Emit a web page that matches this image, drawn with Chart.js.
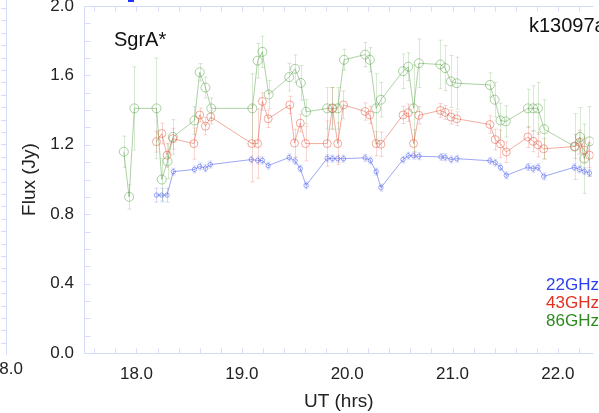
<!DOCTYPE html>
<html><head><meta charset="utf-8">
<script src="https://cdn.jsdelivr.net/npm/chart.js@4/dist/chart.umd.min.js"></script>
<style>html,body{margin:0;padding:0;background:#fff;overflow:hidden}#wrap{position:relative;width:599px;height:413px}</style>
</head><body><div id="wrap"><canvas id="c" width="599" height="413"></canvas></div>
<script>
// ---- data (UT hours, flux Jy, 1-sigma error) ----
const t22 = [18.19,18.24,18.29,18.35,18.55,18.60,18.655,18.70,19.09,19.15,19.195,19.25,19.45,19.505,19.555,19.61,19.81,19.86,19.91,19.965,20.17,20.22,20.275,20.32,20.53,20.58,20.63,20.68,20.89,20.93,20.985,21.04,21.355,21.405,21.455,21.51,21.715,21.765,21.81,21.865,22.155,22.205,22.25,22.30];
const f22 = [0.91,0.91,0.91,1.045,1.058,1.075,1.065,1.086,1.115,1.11,1.11,1.08,1.127,1.107,1.063,0.966,1.122,1.12,1.12,1.12,1.125,1.11,1.045,0.953,1.115,1.137,1.137,1.134,1.13,1.128,1.115,1.12,1.108,1.097,1.07,1.024,1.072,1.062,1.07,1.018,1.07,1.058,1.048,1.037];
const e22 = [0.04,0.04,0.04,0.02,0.02,0.02,0.02,0.02,0.02,0.02,0.02,0.02,0.02,0.02,0.02,0.02,0.02,0.02,0.02,0.02,0.02,0.02,0.02,0.02,0.02,0.02,0.02,0.02,0.02,0.02,0.02,0.02,0.02,0.02,0.02,0.02,0.02,0.02,0.02,0.02,0.02,0.02,0.02,0.02];

const t43 = [18.19,18.24,18.29,18.345,18.545,18.60,18.655,18.705,19.095,19.15,19.195,19.25,19.455,19.50,19.555,19.605,19.81,19.86,19.91,19.965,20.17,20.215,20.275,20.32,20.53,20.58,20.63,20.68,20.885,20.93,20.985,21.04,21.355,21.405,21.455,21.51,21.715,21.765,21.81,21.865,22.16,22.205,22.25,22.30];
const f43 = [1.218,1.265,1.14,1.235,1.207,1.372,1.307,1.36,1.207,1.207,1.45,1.35,1.43,1.21,1.325,1.207,1.207,1.41,1.207,1.43,1.392,1.372,1.207,1.203,1.372,1.385,1.207,1.37,1.398,1.387,1.36,1.35,1.317,1.23,1.205,1.158,1.245,1.22,1.2,1.177,1.19,1.215,1.17,1.14];
const e43 = [0.06,0.06,0.07,0.06,0.09,0.04,0.05,0.04,0.22,0.2,0.05,0.05,0.05,0.08,0.05,0.1,0.13,0.12,0.12,0.08,0.05,0.05,0.07,0.07,0.05,0.05,0.08,0.05,0.04,0.04,0.04,0.04,0.05,0.06,0.08,0.06,0.06,0.06,0.07,0.06,0.07,0.07,0.07,0.07];

const t86 = [17.88,17.93,17.98,18.19,18.24,18.295,18.345,18.55,18.60,18.655,18.71,19.10,19.15,19.195,19.255,19.45,19.505,19.56,19.61,19.81,19.86,19.91,19.97,20.17,20.215,20.275,20.32,20.53,20.58,20.63,20.68,20.885,20.93,20.985,21.04,21.355,21.40,21.455,21.505,21.715,21.765,21.81,21.87,22.16,22.21,22.25,22.30];
const f86 = [1.16,0.90,1.41,1.41,1.00,1.105,1.245,1.34,1.618,1.53,1.41,1.41,1.685,1.736,1.49,1.59,1.638,1.557,1.39,1.41,1.41,1.41,1.69,1.72,1.69,1.41,1.46,1.624,1.65,1.41,1.67,1.663,1.642,1.565,1.555,1.545,1.46,1.34,1.335,1.41,1.41,1.41,1.29,1.19,1.245,1.12,1.22];
const e86 = [0.09,0.07,0.24,0.29,0.12,0.1,0.1,0.08,0.05,0.06,0.06,0.2,0.1,0.09,0.08,0.08,0.08,0.1,0.07,0.12,0.12,0.12,0.06,0.07,0.07,0.2,0.1,0.1,0.08,0.25,0.14,0.14,0.13,0.15,0.15,0.07,0.1,0.1,0.09,0.11,0.13,0.15,0.17,0.19,0.17,0.2,0.2];

const seriesNames = ['22GHz','43GHz','86GHz'];
const yTicks = [0.0,0.4,0.8,1.2,1.6,2.0];
const xTicks = [18.0,19.0,20.0,21.0,22.0];

const FONT = "'Liberation Sans', Arial, Helvetica, sans-serif";
const lineCols = ['rgba(60,80,235,0.5)','rgba(225,70,45,0.45)','rgba(60,145,40,0.42)'];
const errCols  = ['rgba(60,80,235,0.22)','rgba(225,70,45,0.22)','rgba(60,145,40,0.2)'];
const textCols = ['#2b3ff0','#e0301e','#2e8a1e'];
const axisCol = 'rgb(212,220,250)';
const errs = [e22,e43,e86];

function pts(t,f){return t.map((x,i)=>({x:x,y:f[i]}));}

const errPlugin = {
  id:'errbars',
  beforeDatasetsDraw(chart){
    const ctx=chart.ctx, xs=chart.scales.x, ys=chart.scales.y, ca=chart.chartArea;
    ctx.save();
    ctx.beginPath(); ctx.rect(ca.left,ca.top,ca.right-ca.left,ca.bottom-ca.top); ctx.clip();
    chart.data.datasets.forEach((ds,k)=>{
      ctx.strokeStyle=errCols[k]; ctx.lineWidth=1;
      ds.data.forEach((p,i)=>{
        const e=errs[k][i];
        const px=Math.round(xs.getPixelForValue(p.x))+0.5;
        const y1=ys.getPixelForValue(p.y+e), y2=ys.getPixelForValue(p.y-e);
        ctx.beginPath();
        ctx.moveTo(px,y1); ctx.lineTo(px,y2);
        ctx.moveTo(px-2,y1); ctx.lineTo(px+2,y1);
        ctx.moveTo(px-2,y2); ctx.lineTo(px+2,y2);
        ctx.stroke();
      });
    });
    ctx.restore();
  }
};

const framePlugin = {
  id:'frame',
  afterDraw(chart){
    const ctx=chart.ctx, xs=chart.scales.x, ys=chart.scales.y, ca=chart.chartArea;
    ctx.save();
    ctx.strokeStyle=axisCol; ctx.lineWidth=1;
    const L=Math.round(ca.left)+0.5, B=Math.round(ca.bottom)+0.5, T=Math.round(ca.top)+0.5;
    ctx.beginPath();
    ctx.moveTo(L,T); ctx.lineTo(L,B); ctx.lineTo(ca.right,B);
    ctx.moveTo(L,T); ctx.lineTo(ca.right,T);
    for(let v=17.6; v<xs.max; v+=0.2){
      const px=Math.round(xs.getPixelForValue(v))+0.5;
      ctx.moveTo(px,B); ctx.lineTo(px,B-5);
      ctx.moveTo(px,T); ctx.lineTo(px,T+5);
    }
    for(let v=0.1; v<2.0; v+=0.1){
      const py=Math.round(ys.getPixelForValue(v))+0.5;
      ctx.moveTo(L,py); ctx.lineTo(L+6,py);
    }
    // neighbouring panel edge (cropped)
    ctx.moveTo(6.5,0); ctx.lineTo(6.5,355);
    for(let y=8; y<355; y+=12.4){ const yy=Math.round(y)+0.5; ctx.moveTo(1,yy); ctx.lineTo(6.5,yy); }
    ctx.stroke();
    // texts
    ctx.fillStyle='#111';
    ctx.font='20px '+FONT; ctx.textAlign='left'; ctx.textBaseline='alphabetic';
    ctx.fillText('SgrA*',114,46);
    ctx.fillText('k13097a',529,32);
    ctx.font='17px '+FONT; ctx.textAlign='right'; ctx.textBaseline='middle';
    ctx.fillStyle='#222';
    ctx.fillText('18.0',23,369);
    ctx.font='17px '+FONT; ctx.textAlign='right';
    seriesNames.forEach((n,k)=>{ctx.fillStyle=textCols[k]; ctx.fillText(n,599,285+k*18);});
    ctx.fillStyle='#2030ff'; ctx.fillRect(128,0,6,2);
    ctx.restore();
  }
};

const radii=[2.2,4,4.5];
new Chart(document.getElementById('c'),{
  type:'scatter',
  data:{datasets:[
    {label:seriesNames[0],data:pts(t22,f22)},
    {label:seriesNames[1],data:pts(t43,f43)},
    {label:seriesNames[2],data:pts(t86,f86)}
  ].map((d,k)=>Object.assign(d,{showLine:true,borderColor:lineCols[k],borderWidth:1,
      pointRadius:radii[k],pointBorderWidth:1,pointBackgroundColor:'rgba(0,0,0,0)',pointBorderColor:lineCols[k]}))},
  options:{
    responsive:false, animation:false, devicePixelRatio:1,
    layout:{padding:{top:6,left:0,right:0,bottom:0}},
    plugins:{legend:{display:false},tooltip:{enabled:false}},
    scales:{
      x:{type:'linear',min:17.502,max:22.338,
        afterBuildTicks(s){s.ticks=xTicks.map(v=>({value:v}));},
        ticks:{callback:v=>v.toFixed(1),font:{size:17,family:FONT},color:'#222',padding:11,maxRotation:0,autoSkip:false},
        grid:{display:false,drawTicks:false},border:{display:false},
        title:{display:true,text:'UT (hrs)',font:{size:19,family:FONT},color:'#222',padding:{top:0,bottom:0}},
        afterFit(s){s.height=60;s.paddingLeft=0;s.paddingRight=0;}},
      y:{type:'linear',min:0,max:2,
        afterBuildTicks(s){s.ticks=yTicks.map(v=>({value:v}));},
        ticks:{callback:v=>v.toFixed(1),font:{size:17,family:FONT},color:'#222',padding:10,autoSkip:false},
        grid:{display:false,drawTicks:false},border:{display:false},
        title:{display:true,text:'Flux (Jy)',font:{size:19,family:FONT},color:'#222',padding:{top:18,bottom:0}},
        afterFit(s){s.width=84;s.paddingTop=0;s.paddingBottom=0;}}
    }
  },
  plugins:[errPlugin,framePlugin]
});
</script></body></html>
